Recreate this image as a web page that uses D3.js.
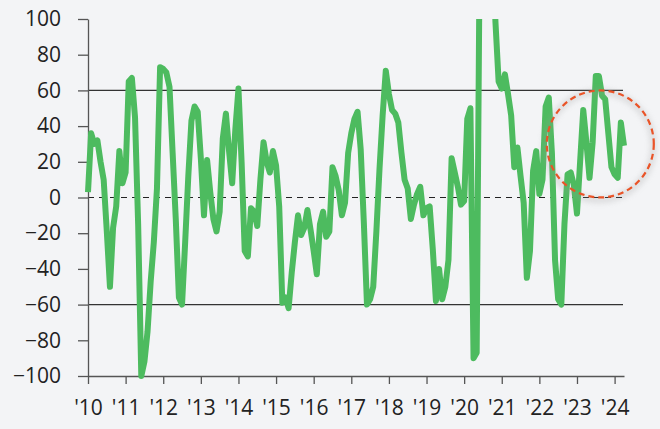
<!DOCTYPE html>
<html>
<head>
<meta charset="utf-8">
<script src="https://cdn.jsdelivr.net/npm/d3@7"></script>
<style>
  html, body { margin: 0; padding: 0; background: #f3f4f6; }
  svg { display: block; }
  .axis text { font-family: "Open Sans", sans-serif; font-size: 21px; fill: #222; }
  .axis path, .axis line { stroke: #555; stroke-width: 1.3; }
</style>
</head>
<body>
<div id="chart"></div>
<script>
// monthly readings, Jan 2010 .. Apr 2024
var startYear = 2010;
var values = [
  3, 36, 30, 32, 20, 10, -19, -50, -17, -5, 26, 8,          // 2010
  14, 65, 67, 45, -15, -100, -92, -75, -47, -25, 5, 73,     // 2011
  72, 70, 62, 25, -12, -56, -60, -25, 12, 43, 51, 48,       // 2012
  22, -10, 21, 3, -12, -19, -8, 33, 47, 26, 8, 38,          // 2013
  61, 20, -30, -33, -6, -8, -16, 10, 31, 20, 14, 26,        // 2014
  18, -5, -59, -56, -62, -42, -25, -10, -21, -17, -7, -18,  // 2015
  -30, -43, -15, -8, -22, -19, 17, 12, 4, -10, -3, 25,      // 2016
  36, 44, 48, 27, -14, -60, -57, -50, -19, 16, 46, 71,      // 2017
  58, 49, 47, 42, 25, 10, 5, -12, -4, 2, 6, -10,            // 2018
  -6, -5, -29, -58, -40, -57, -50, -35, 22, 14, 6, -4,      // 2019
  -2, 44, 50, -90, -87, 150, 190, 175, 150, 140, 98, 65,    // 2020
  61, 69, 58, 46, 17, 28, 12, -3, -45, -30, 15, 26,         // 2021
  2, 10, 51, 56, 25, -35, -57, -60, -15, 13, 14, 7,         // 2022
  -9, 20, 49, 31, 11, 31, 68, 68, 57, 55, 36, 17,           // 2023
  13, 11, 42, 29                                            // 2024
];
var yTicks = [-100, -80, -60, -40, -20, 0, 20, 40, 60, 80, 100];
var xTickYears = [2010, 2011, 2012, 2013, 2014, 2015, 2016, 2017, 2018, 2019, 2020, 2021, 2022, 2023, 2024];
var bandLines = [60, -60];
var zeroLine = [0];
// highlighted recent period (centre in data units)
var highlight = [{ year: 2023.62, value: 30 }];

var W = 660, H = 429;
var svg = d3.select('#chart').append('svg').attr('width', W).attr('height', H);
svg.append('rect').attr('width', W).attr('height', H).attr('fill', '#f3f4f6');

var x = d3.scaleLinear()
  .domain([startYear, startYear + (values.length - 1) / 12])
  .range([88, 624]);
var y = d3.scaleLinear().domain([-100, 100]).range([376, 19]);

var defs = svg.append('defs');
defs.append('clipPath').attr('id', 'plot')
  .append('rect').attr('x', 80).attr('y', y(100)).attr('width', 560).attr('height', y(-100) - y(100) + 4);
var blur = defs.append('filter').attr('id', 'soft').attr('x', '-30%').attr('y', '-30%').attr('width', '160%').attr('height', '160%');
blur.append('feGaussianBlur').attr('stdDeviation', 3);

// reference lines
svg.selectAll('.band').data(bandLines).enter().append('line')
  .attr('x1', x(startYear)).attr('x2', 623)
  .attr('y1', d => y(d)).attr('y2', d => y(d))
  .attr('stroke', '#333').attr('stroke-width', 1.2);
svg.selectAll('.zero').data(zeroLine).enter().append('line')
  .attr('x1', x(startYear)).attr('x2', 623)
  .attr('y1', d => y(d)).attr('y2', d => y(d))
  .attr('stroke', '#222').attr('stroke-width', 1.2)
  .attr('stroke-dasharray', '6,5');

// axes
var yAxis = d3.axisLeft(y).tickValues(yTicks).tickSize(10).tickSizeOuter(0).tickPadding(17);
svg.append('g').attr('class', 'axis').attr('transform', 'translate(' + x(startYear) + ',0)').call(yAxis);

var xAxis = d3.axisBottom(x).tickValues(xTickYears).tickSize(8).tickSizeOuter(0).tickPadding(16)
  .tickFormat(d => "'" + String(d).slice(2));
svg.append('g').attr('class', 'axis').attr('transform', 'translate(0,' + y(-100) + ')').call(xAxis);

// series
var line = d3.line()
  .x((d, i) => x(startYear + i / 12))
  .y(d => y(d));

svg.append('g').attr('clip-path', 'url(#plot)')
  .append('path')
  .datum(values)
  .attr('d', line)
  .attr('fill', 'none')
  .attr('stroke', '#4dbb5f')
  .attr('stroke-width', 6)
  .attr('stroke-linejoin', 'round');

// annotation circle with soft shadow
var ring = svg.selectAll('.hl').data(highlight).enter().append('g');
ring.append('circle')
  .attr('cx', d => x(d.year) - 1).attr('cy', d => y(d.value) + 2)
  .attr('r', 54)
  .attr('fill', 'none').attr('stroke', '#9a9a9a').attr('stroke-width', 3)
  .attr('opacity', 0.55).attr('filter', 'url(#soft)');
ring.append('circle')
  .attr('cx', d => x(d.year)).attr('cy', d => y(d.value))
  .attr('r', 53.5)
  .attr('fill', 'none').attr('stroke', '#ea5428').attr('stroke-width', 2.2)
  .attr('stroke-dasharray', '6,4');
</script>
</body>
</html>
